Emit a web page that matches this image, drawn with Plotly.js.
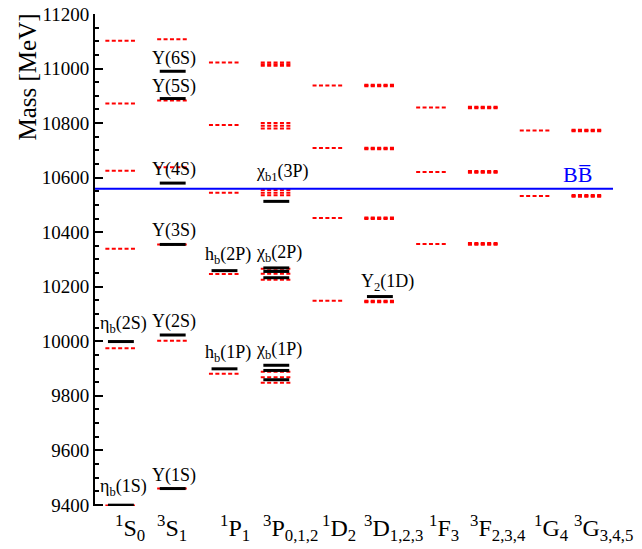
<!DOCTYPE html>
<html>
<head>
<meta charset="utf-8">
<script src="https://cdn.plot.ly/plotly-3.0.1.min.js"></script>
<style>html,body{margin:0;padding:0;background:#fff;}#chart{width:642px;height:549px;}</style>
</head>
<body>
<div id="chart"></div>
<script>
// Categories (spectroscopic channels)
var categories = ["<sup>1</sup>S<sub>0</sub>", "<sup>3</sup>S<sub>1</sub>", "<sup>1</sup>P<sub>1</sub>", "<sup>3</sup>P<sub>0,1,2</sub>",
  "<sup>1</sup>D<sub>2</sub>", "<sup>3</sup>D<sub>1,2,3</sub>", "<sup>1</sup>F<sub>3</sub>", "<sup>3</sup>F<sub>2,3,4</sub>",
  "<sup>1</sup>G<sub>4</sub>", "<sup>3</sup>G<sub>3,4,5</sub>"];

// Theory levels (red dashed), category index and mass in MeV
var theoryCat  = [0,0,0,0,0,0, 1,1,1,1,1,1, 2,2,2,2,2,
  3,3,3,3,3,3,3,3,3,3,3,3,3,3,3,
  4,4,4,4, 5,5,5,5,5,5,5,5,5,5,5,5,
  6,6,6, 7,7,7,7,7,7,7,7,7, 8,8, 9,9,9,9,9,9];
var theoryMass = [9398, 9974, 10339, 10625, 10872, 11102,
  9460, 10002, 10355, 10638, 10883, 11107,
  9881, 10247, 10545, 10793, 11022,
  9848, 9868, 9888, 10226, 10248, 10266, 10535, 10545, 10555, 10780, 10790, 10800, 11010, 11016, 11022,
  10149, 10452, 10709, 10938,
  10143, 10146, 10149, 10448, 10451, 10454, 10704, 10707, 10710, 10935, 10938, 10941,
  10357, 10621, 10857,
  10354, 10357, 10360, 10618, 10621, 10624, 10854, 10857, 10860,
  10533, 10773,
  10530, 10533, 10536, 10770, 10773, 10776];

// Experimental levels (black solid)
var expCat  = [0,0, 1,1,1,1,1,1, 2,2, 3,3,3,3,3,3,3, 5];
var expMass = [9399, 9999, 9460, 10023, 10355, 10580, 10890, 10990, 9899, 10259,
  9859, 9893, 9912, 10233, 10256, 10269, 10513, 10164];

// State labels, attached to a level (category, mass)
var labelText = ["η<sub>b</sub>(1S)", "η<sub>b</sub>(2S)", "Υ(1S)", "Υ(2S)", "Υ(3S)", "Υ(4S)", "Υ(5S)", "Υ(6S)",
  "h<sub>b</sub>(1P)", "h<sub>b</sub>(2P)", "χ<sub>b</sub>(1P)", "χ<sub>b</sub>(2P)", "χ<sub>b1</sub>(3P)", "Υ<sub>2</sub>(1D)"];
var labelCat  = [0, 0, 1, 1, 1, 1, 1, 1, 2, 2, 3, 3, 3, 5];
var labelMass = [9399, 9999, 9460, 10023, 10355, 10580, 10890, 10990, 9899, 10259, 9912, 10269, 10513, 10164];

// BB threshold
var bbThreshold = 10559;
var bbLabel = "BB\u0305";
var yTitle = "Mass [MeV]";

// ---- styles / offsets (not data) ----
var labelDx = [3, 3, 1, 1, 1, 1, 1, 1, 3, 3, 3, 3, 6, 8];
var labelDy = [4, 4, 1, 1, 1, 1, 0, 0, 2, 2, 1, 1, 15, 1];
var catDx = [-8, -18, -7, -15, -8, -18, -5, -16, -3, -15];
var serif = "'Liberation Serif', 'Times New Roman', Times, serif";

function segs(cats, masses, half) {
  var x = [], y = [];
  for (var i = 0; i < cats.length; i++) {
    x.push(cats[i] - half, cats[i] + half, null);
    y.push(masses[i], masses[i], null);
  }
  return {x: x, y: y};
}
var th = segs(theoryCat, theoryMass, 0.3);
var ex = segs(expCat, expMass, 0.25);

var traces = [
  {type: "scatter", mode: "lines", x: th.x, y: th.y, hoverinfo: "skip",
   line: {color: "#ff0000", width: 2, dash: "4px,2.4px"}, connectgaps: false},
  {type: "scatter", mode: "lines", x: ex.x, y: ex.y, hoverinfo: "skip",
   line: {color: "#000000", width: 3}, connectgaps: false},
  {type: "scatter", mode: "lines", x: [-0.5, 9.5], y: [bbThreshold, bbThreshold], hoverinfo: "skip",
   line: {color: "#0000ff", width: 2}}
];

var annotations = [];
for (var i = 0; i < labelText.length; i++) {
  annotations.push({x: labelCat[i], y: labelMass[i], xref: "x", yref: "y", text: labelText[i],
    showarrow: false, xanchor: "center", yanchor: "bottom", xshift: labelDx[i], yshift: labelDy[i],
    font: {family: serif, size: 18, color: "#000"}});
}
annotations.push({x: 9, y: bbThreshold, xref: "x", yref: "y", text: bbLabel, showarrow: false,
  xanchor: "center", yanchor: "bottom", xshift: -10, yshift: 0,
  font: {family: serif, size: 22, color: "#0000ff"}});
// category labels below the axis
for (var j = 0; j < categories.length; j++) {
  annotations.push({x: j, y: 0, xref: "x", yref: "paper", text: categories[j], showarrow: false,
    xanchor: "left", yanchor: "top", xshift: catDx[j], yshift: -3,
    font: {family: serif, size: 24, color: "#000"}});
}
// y-axis title (top-aligned, as in the reference)
annotations.push({x: 0, y: 1, xref: "paper", yref: "paper", text: yTitle, showarrow: false, textangle: -90,
  xanchor: "center", yanchor: "top", xshift: -68, yshift: 2,
  font: {family: serif, size: 25, color: "#000"}});

var layout = {
  width: 642, height: 549,
  margin: {l: 95, r: 29, t: 14, b: 43},
  paper_bgcolor: "#fff", plot_bgcolor: "#fff",
  showlegend: false,
  font: {family: serif, color: "#000"},
  xaxis: {range: [-0.5, 9.5], showticklabels: false, showgrid: false, zeroline: false, showline: false, ticks: "",
    fixedrange: true},
  yaxis: {range: [9396, 11200], tickmode: "linear", tick0: 9400, dtick: 200, tickformat: "d",
    showgrid: false, zeroline: false,
    showline: true, linecolor: "#000", linewidth: 2, ticks: "inside", ticklen: 8, tickwidth: 2, tickcolor: "#000",
    minor: {dtick: 50, tick0: 9400, ticks: "inside", ticklen: 4, tickwidth: 2, tickcolor: "#000"},
    tickfont: {family: serif, size: 19, color: "#000"}},
  annotations: annotations
};

Plotly.newPlot("chart", traces, layout, {displayModeBar: false, staticPlot: true});
</script>
</body>
</html>
